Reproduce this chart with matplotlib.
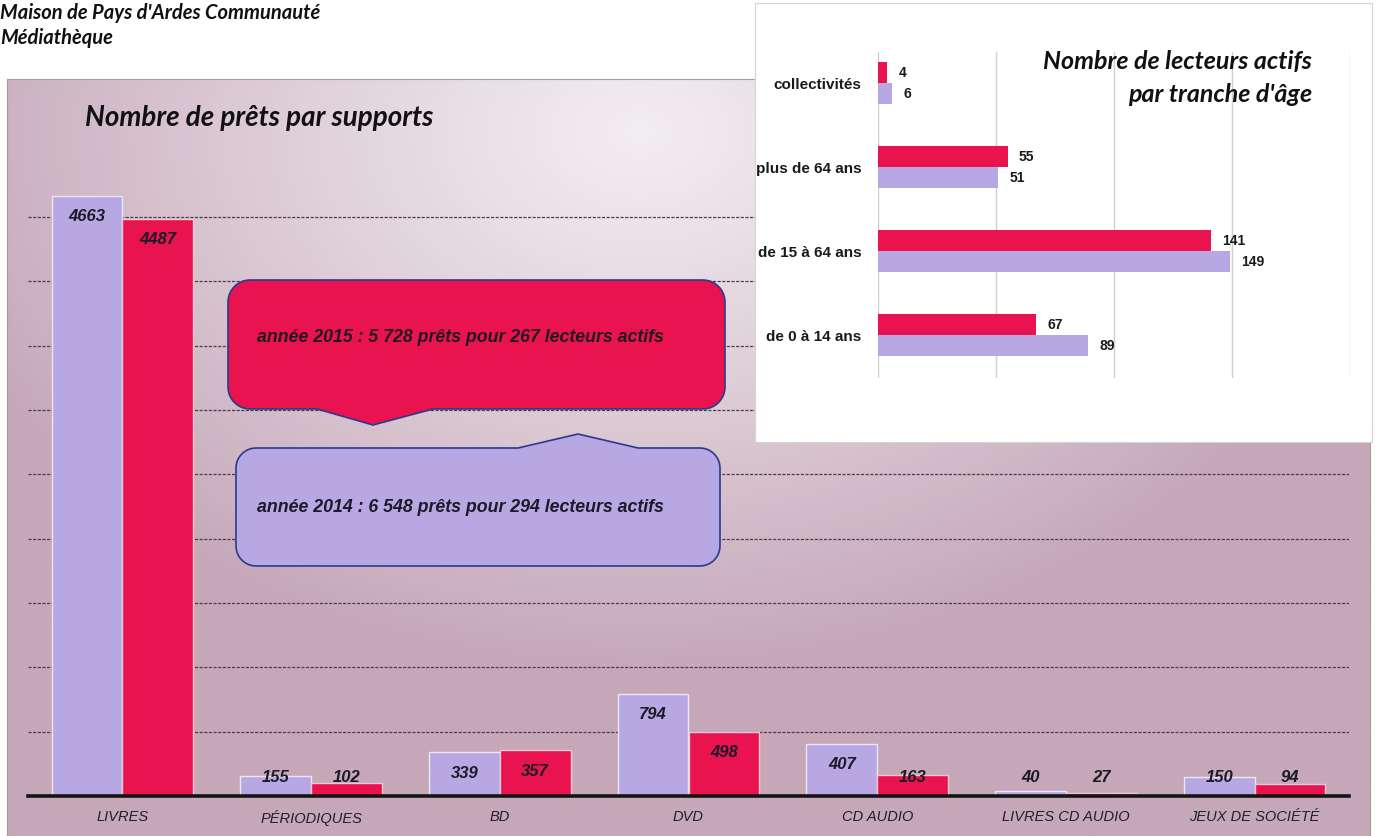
import numpy as np
import matplotlib
matplotlib.use('Agg')
import matplotlib.pyplot as plt
from matplotlib.patches import PathPatch
from matplotlib.path import Path

# Prêts par support (2014 / 2015)
supports = ['LIVRES', 'PÉRIODIQUES', 'BD', 'DVD', 'CD AUDIO', 'LIVRES CD AUDIO', 'JEUX DE SOCIÉTÉ']
prets_2014 = [4663, 155, 339, 794, 407, 40, 150]
prets_2015 = [4487, 102, 357, 498, 163, 27, 94]

# Lecteurs actifs par tranche d'âge
tranches = ['collectivités', 'plus de 64 ans', 'de 15 à 64 ans', 'de 0 à 14 ans']
lecteurs_2014 = [6, 51, 149, 89]
lecteurs_2015 = [4, 55, 141, 67]

bilan_2015 = 'année 2015 : 5 728 prêts pour 267 lecteurs actifs'
bilan_2014 = 'année 2014 : 6 548 prêts pour 294 lecteurs actifs'

VIOLET = '#b7a8e4'
ROUGE = '#e8134f'
NARROW = ['Liberation Sans Narrow', 'Liberation Sans', 'DejaVu Sans']
TITRE = ['Lato', 'DejaVu Sans']

W, H = 1378, 836
fig = plt.figure(figsize=(W / 100, H / 100), dpi=100)


def rect(x0, y0, x1, y1):
    # boite en pixels (origine en haut a gauche) -> fraction de figure
    return [x0 / W, 1 - y1 / H, (x1 - x0) / W, (y1 - y0) / H]


# fond degrade du panneau principal
bg = fig.add_axes(rect(7, 79, 1370, 836))
gx, gy = np.meshgrid(np.linspace(7, 1370, 300), np.linspace(79, 836, 200))
d = np.sqrt(((gx - 640) / 740) ** 2 + ((gy - 130) / 540) ** 2)
t = np.clip(d, 0, 1) ** 1.1
clair = np.array([242, 237, 242]) / 255
fonce = np.array([198, 168, 184]) / 255
img = clair[None, None, :] * (1 - t[..., None]) + fonce[None, None, :] * t[..., None]
bg.imshow(img, aspect='auto', interpolation='bilinear', extent=[0, 1, 0, 1])
bg.set_xticks([])
bg.set_yticks([])
for s in bg.spines.values():
    s.set_color('#a89aa4')
    s.set_linewidth(0.8)

# histogramme principal
ax = fig.add_axes(rect(28, 152.5, 1349, 796))
ax.patch.set_alpha(0)
x = np.arange(len(supports))
w = 0.375
ax.bar(x - w / 2, prets_2014, w, color=VIOLET, edgecolor='#ece6f4', linewidth=1, zorder=2)
ax.bar(x + w / 2, prets_2015, w, color=ROUGE, edgecolor='#f0c8d4', linewidth=1, zorder=2)
for v in range(500, 5000, 500):
    ax.axhline(v, color='#4e3c4a', lw=0.9, ls=(0, (2.5, 1.2)), zorder=1)
ax.axhline(0, color='#151515', lw=2.6, zorder=3, clip_on=False)
ax.set_xlim(-0.5, 6.5)
ax.set_ylim(0, 5000)
for s in ax.spines.values():
    s.set_visible(False)
ax.set_yticks([])
ax.set_xticks(x, supports)
ax.tick_params(axis='x', length=0, pad=10)
for lab in ax.get_xticklabels():
    lab.set_fontfamily(NARROW)
    lab.set_fontstyle('italic')
    lab.set_fontsize(10.5)
    lab.set_color('#201e30')

for i in range(len(supports)):
    for dx, v in ((-w / 2, prets_2014[i]), (w / 2, prets_2015[i])):
        ax.text(i + dx, max(v - 163, 140), str(v), ha='center', va='center',
                family=NARROW, style='italic', weight='bold', fontsize=12, color='#1c1a28', zorder=4)

fig.text(85 / W, 1 - 118 / H, 'Nombre de prêts par supports', ha='left', va='center',
         family=TITRE, style='italic', weight='bold', fontsize=20, color='#111111')
fig.text(0, 1 - 13 / H, 'Maison de Pays d\'Ardes Communauté', ha='left', va='center',
         family=TITRE, style='italic', weight='bold', fontsize=14.5, color='#111111')
fig.text(0, 1 - 38 / H, 'Médiathèque', ha='left', va='center',
         family=TITRE, style='italic', weight='bold', fontsize=14.5, color='#111111')


# bulles de bilan annuel
def arc(cx, cy, r, a0, a1):
    a = np.radians(np.linspace(a0, a1, 10))
    return list(zip(cx + r * np.cos(a), cy + r * np.sin(a)))


def bulle(x0, y0, x1, y1, r, pointe, en_bas):
    xa, xb, xt, yt = pointe
    pts = [(x0 + r, y0)]
    if not en_bas:
        pts += [(xa, y0), (xt, yt), (xb, y0)]
    pts += arc(x1 - r, y0 + r, r, -90, 0)
    pts += arc(x1 - r, y1 - r, r, 0, 90)
    if en_bas:
        pts += [(xb, y1), (xt, yt), (xa, y1)]
    pts += arc(x0 + r, y1 - r, r, 90, 180)
    pts += arc(x0 + r, y0 + r, r, 180, 270)
    pts.append(pts[0])
    return Path(pts, closed=True)


ov = fig.add_axes([0, 0, 1, 1])
ov.set_xlim(0, W)
ov.set_ylim(H, 0)
ov.axis('off')
ov.add_patch(PathPatch(bulle(228, 280, 725, 409, 22, (317, 433, 373, 425), True),
                       facecolor=ROUGE, edgecolor='#2b3a8c', lw=1.2))
ov.add_patch(PathPatch(bulle(236, 448, 720, 566, 20, (518, 638, 578, 434), False),
                       facecolor=VIOLET, edgecolor='#2b3a8c', lw=1.2))
ov.text(257, 338, bilan_2015, ha='left', va='center', family=NARROW, style='italic',
        weight='bold', fontsize=12.8, color='#241820')
ov.text(257, 508, bilan_2014, ha='left', va='center', family=NARROW, style='italic',
        weight='bold', fontsize=12.8, color='#1c1a28')

# encart : lecteurs actifs par tranche d'age
ib = fig.add_axes(rect(755, 3, 1372, 442))
ib.set_facecolor('white')
ib.set_xticks([])
ib.set_yticks([])
for s in ib.spines.values():
    s.set_color('#d4d4d4')

ia = fig.add_axes(rect(878, 52, 1350, 378))
ia.patch.set_alpha(0)
yy = np.arange(len(tranches))
ia.barh(yy - 0.125, lecteurs_2015, 0.25, color=ROUGE, zorder=2)
ia.barh(yy + 0.125, lecteurs_2014, 0.25, color=VIOLET, zorder=2)
ia.set_xlim(0, 200)
ia.set_ylim(3.51, -0.37)
ia.set_xticks([0, 50, 100, 150, 200])
ia.tick_params(axis='x', length=0, labelbottom=False)
ia.grid(axis='x', color='#cfcfcf', lw=1, zorder=0)
for s in ia.spines.values():
    s.set_visible(False)
ia.set_yticks(yy, tranches)
ia.tick_params(axis='y', length=0, pad=12)
for lab in ia.get_yticklabels():
    lab.set_fontfamily(NARROW)
    lab.set_fontweight('bold')
    lab.set_fontsize(11)
    lab.set_color('#1a1a1a')
for i in range(len(tranches)):
    for dy, v in ((-0.125, lecteurs_2015[i]), (0.125, lecteurs_2014[i])):
        ia.annotate(str(v), (v, i + dy), xytext=(8, 0), textcoords='offset points',
                    ha='left', va='center', family=NARROW, weight='bold', fontsize=10,
                    color='#1a1a1a')

fig.text(1312 / W, 1 - 62 / H, 'Nombre de lecteurs actifs', ha='right', va='center',
         family=TITRE, style='italic', weight='bold', fontsize=18, color='#111111')
fig.text(1312 / W, 1 - 95 / H, 'par tranche d\'âge', ha='right', va='center',
         family=TITRE, style='italic', weight='bold', fontsize=18, color='#111111')

fig.savefig('out.png', dpi=100, facecolor='white')
